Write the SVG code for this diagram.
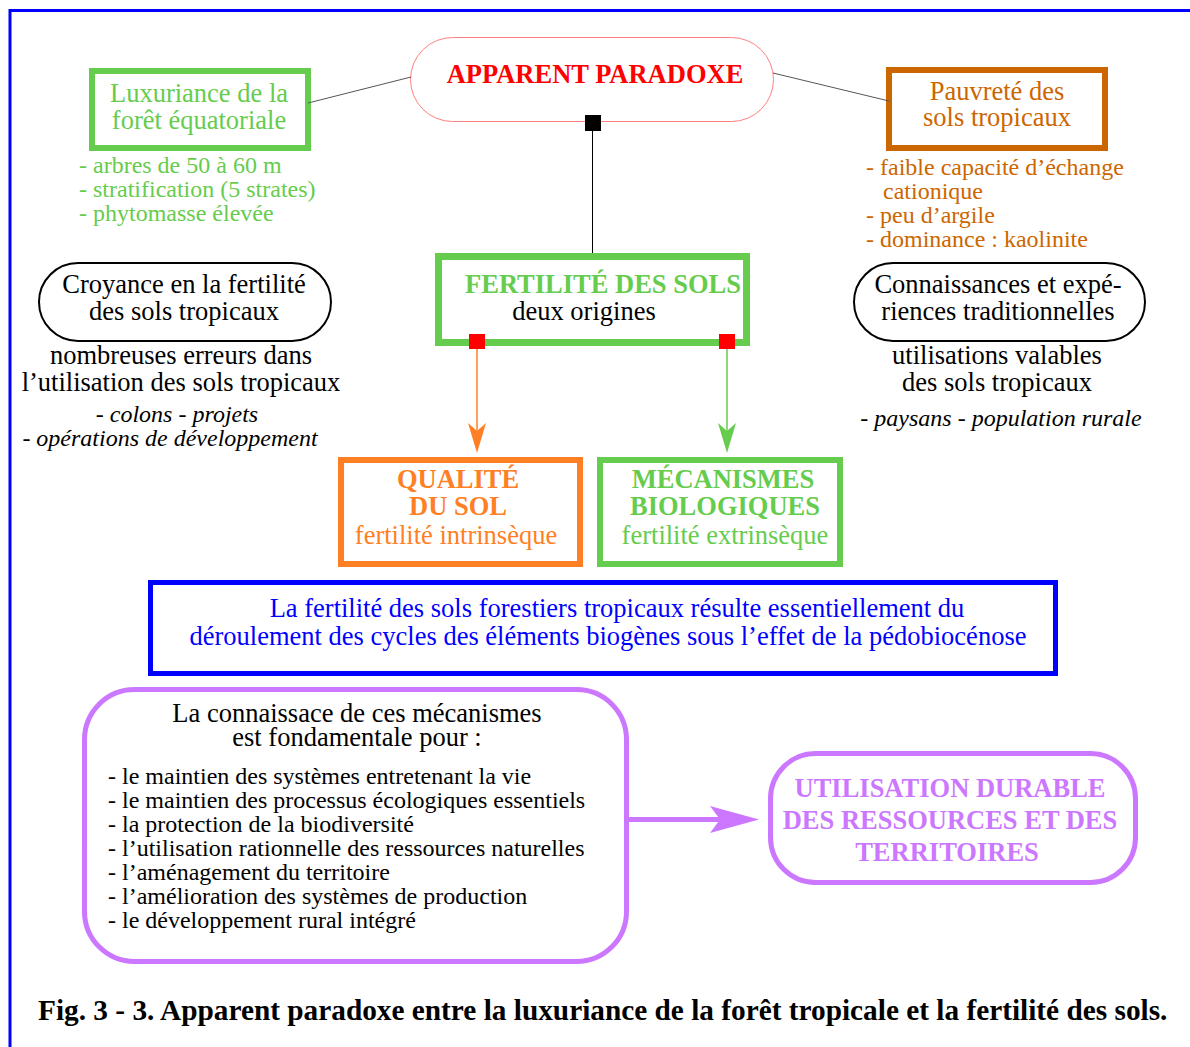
<svg xmlns="http://www.w3.org/2000/svg" width="1190" height="1047" viewBox="0 0 1190 1047">
<style>
text{font-family:"Liberation Serif","Times New Roman",serif;}
.m{font-size:26.5px;}
.s{font-size:24px;}
.b{font-weight:bold;}
.i{font-style:italic;}
.c{text-anchor:middle;}
.g{fill:#66CC4D;}
.k{fill:#000;}
</style>
<rect width="1190" height="1047" fill="#fff"/>
<g id="frame">
<line x1="10" y1="10.5" x2="1190" y2="10.5" stroke="#0000FF" stroke-width="3"/>
<line x1="10" y1="9" x2="10" y2="1047" stroke="#0000FF" stroke-width="3"/>
</g>
<g id="luxuriance">
<rect x="92" y="71" width="216" height="77" fill="none" stroke="#66CC4D" stroke-width="6"/>
<text class="m c g" x="199" y="102">Luxuriance de la</text>
<text class="m c g" x="199" y="129">forêt équatoriale</text>
<text class="s g" x="79" y="173">- arbres de 50 à 60 m</text>
<text class="s g" x="79" y="197">- stratification (5 strates)</text>
<text class="s g" x="79" y="221">- phytomasse élevée</text>
</g>
<g id="paradoxe">
<rect x="410.5" y="37.5" width="363" height="84" rx="42" fill="none" stroke="#FF8080" stroke-width="1"/>
<text class="m b c" x="595" y="83" fill="#FF0000">APPARENT PARADOXE</text>
</g>
<g id="pauvrete">
<rect x="889" y="70" width="216" height="78" fill="none" stroke="#CC6600" stroke-width="6"/>
<text class="m c" x="997" y="100" fill="#CC6600">Pauvreté des</text>
<text class="m c" x="997" y="126" fill="#CC6600">sols tropicaux</text>
<text class="s" x="866" y="175" fill="#CC6600">- faible capacité d’échange</text>
<text class="s" x="883" y="199" fill="#CC6600">cationique</text>
<text class="s" x="866" y="223" fill="#CC6600">- peu d’argile</text>
<text class="s" x="866" y="247" fill="#CC6600">- dominance : kaolinite</text>
</g>
<g id="croyance">
<rect x="39" y="263" width="292" height="78" rx="39" fill="none" stroke="#000" stroke-width="2"/>
<text class="m c" x="184" y="293">Croyance en la fertilité</text>
<text class="m c" x="184" y="320">des sols tropicaux</text>
<text class="m c" x="181" y="364">nombreuses erreurs dans</text>
<text class="m c" x="181" y="391">l’utilisation des sols tropicaux</text>
<text class="s i c" x="177" y="422">- colons - projets</text>
<text class="s i c" x="170" y="446">- opérations de développement</text>
</g>
<g id="fertilite">
<rect x="438.5" y="256.5" width="308" height="86" fill="none" stroke="#66CC4D" stroke-width="7"/>
<text class="m b c g" x="603" y="293">FERTILITÉ DES SOLS</text>
<text class="m c" x="584" y="320">deux origines</text>
</g>
<g id="connaissances">
<rect x="854" y="263" width="291" height="78" rx="39" fill="none" stroke="#000" stroke-width="2"/>
<text class="m c" x="998" y="293">Connaissances et expé-</text>
<text class="m c" x="998" y="320">riences traditionnelles</text>
<text class="m c" x="997" y="364">utilisations valables</text>
<text class="m c" x="997" y="391">des sols tropicaux</text>
<text class="s i c" x="1001" y="426">- paysans - population rurale</text>
</g>
<g id="qualite">
<rect x="341" y="460" width="239" height="104" fill="none" stroke="#FF7F24" stroke-width="6"/>
<text class="m b c" x="458" y="488" fill="#FF7F24">QUALITÉ</text>
<text class="m b c" x="458" y="515" fill="#FF7F24">DU SOL</text>
<text class="m c" x="456" y="544" fill="#FF7F24">fertilité intrinsèque</text>
</g>
<g id="mecanismes">
<rect x="600" y="460" width="240" height="104" fill="none" stroke="#66CC4D" stroke-width="6"/>
<text class="m b c g" x="723" y="488">MÉCANISMES</text>
<text class="m b c g" x="725" y="515">BIOLOGIQUES</text>
<text class="m c g" x="725" y="544">fertilité extrinsèque</text>
</g>
<g id="resultat">
<rect x="150.5" y="582.5" width="905" height="91" fill="none" stroke="#0000FF" stroke-width="5"/>
<text class="m c" x="617" y="617" fill="#0000FF">La fertilité des sols forestiers tropicaux résulte essentiellement du</text>
<text class="m c" x="608" y="645" fill="#0000FF">déroulement des cycles des éléments biogènes sous l’effet de la pédobiocénose</text>
</g>
<g id="connaissance">
<rect x="84.5" y="689.5" width="542" height="272" rx="50" fill="none" stroke="#CC77FF" stroke-width="5"/>
<text class="m c" x="357" y="722">La connaissace de ces mécanismes</text>
<text class="m c" x="357" y="746">est fondamentale pour :</text>
<text class="s" x="108" y="784">- le maintien des systèmes entretenant la vie</text>
<text class="s" x="108" y="808">- le maintien des processus écologiques essentiels</text>
<text class="s" x="108" y="832">- la protection de la biodiversité</text>
<text class="s" x="108" y="856">- l’utilisation rationnelle des ressources naturelles</text>
<text class="s" x="108" y="880">- l’aménagement du territoire</text>
<text class="s" x="108" y="904">- l’amélioration des systèmes de production</text>
<text class="s" x="108" y="928">- le développement rural intégré</text>
</g>
<g id="utilisation">
<rect x="770.5" y="753.5" width="365" height="129" rx="45" fill="none" stroke="#CC77FF" stroke-width="5"/>
<text class="m b c" x="950" y="797" fill="#CC77FF">UTILISATION DURABLE</text>
<text class="m b c" x="950" y="829" fill="#CC77FF">DES RESSOURCES ET DES</text>
<text class="m b c" x="947" y="861" fill="#CC77FF">TERRITOIRES</text>
</g>
<g id="connectors">
<line x1="308" y1="103" x2="411" y2="77" stroke="#555" stroke-width="1"/>
<line x1="773" y1="73" x2="889" y2="101" stroke="#555" stroke-width="1"/>
<line x1="592.5" y1="130" x2="592.5" y2="253" stroke="#000" stroke-width="1"/>
<rect x="585" y="115" width="16" height="16" fill="#000"/>
<rect x="469" y="334" width="16" height="15" fill="#FF0000"/>
<rect x="719" y="334" width="16" height="15" fill="#FF0000"/>
<line x1="477" y1="349" x2="477" y2="432" stroke="#FF7F24" stroke-width="1.5"/>
<path d="M477,453 L468,423 L477,431 L486,423 Z" fill="#FF7F24"/>
<line x1="727" y1="349" x2="727" y2="432" stroke="#66CC4D" stroke-width="1.5"/>
<path d="M727,453 L718,423 L727,431 L736,423 Z" fill="#66CC4D"/>
<line x1="629" y1="819.5" x2="720" y2="819.5" stroke="#CC77FF" stroke-width="5"/>
<path d="M759,819.5 L710,806 L720,819.5 L710,833 Z" fill="#CC77FF"/>
</g>
<g id="caption">
<text class="b" x="38" y="1020" font-size="29.3">Fig. 3 - 3. Apparent paradoxe entre la luxuriance de la forêt tropicale et la fertilité des sols.</text>
</g>
</svg>
